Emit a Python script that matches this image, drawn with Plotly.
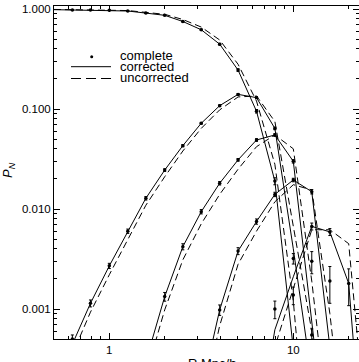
import plotly.graph_objects as go

# ---------------- data ----------------
R = [0.50, 0.63, 0.79, 1.00, 1.26, 1.58, 2.00, 2.51, 3.16, 3.98,
     5.01, 6.31, 7.94, 10.0, 12.6, 15.8, 20.0, 25.1]

# corrected (solid)
P0_corr = [0.985, 0.98, 0.975, 0.97, 0.955, 0.91, 0.865, 0.75, 0.62, 0.445,
           0.245, 0.095, 0.019, 0.0004, None, None, None, None]
P1_corr = [0.00017, 0.00044, 0.00114, 0.0027, 0.006, 0.0128, 0.0245, 0.043, 0.072, 0.108,
           0.140, 0.130, 0.064, 0.004, 0.0002, 0.000001, None, None]
P2_corr = [None, None, None, None, None, 0.0003, 0.00133, 0.0042, 0.0094, 0.0181,
           0.031, 0.049, 0.055, 0.030, 0.0009, 0.00002, None, None]
P3_corr = [None, None, None, None, None, None, None, None, 0.00015, 0.00098,
           0.0038, 0.0075, 0.0140, 0.0195, 0.0149, 0.00045, 0.00001, None]
P4_corr = [None, None, None, None, None, None, None, None, None, None,
           None, 0.00005, 0.00062, 0.0021, 0.0067, 0.0059, 0.0018, 0.00001]

# uncorrected (dashed)
P0_unc = [0.99, 0.985, 0.98, 0.975, 0.965, 0.925, 0.885, 0.785, 0.66, 0.49,
          0.28, 0.12, 0.028, 0.0012, 0.00001, None, None, None]
P1_unc = [0.00013, 0.00035, 0.00093, 0.0022, 0.0050, 0.0109, 0.021, 0.038, 0.064, 0.098,
          0.132, 0.135, 0.075, 0.0065, 0.0006, 0.00001, None, None]
P2_unc = [None, None, None, None, None, 0.00022, 0.00098, 0.0031, 0.0071, 0.0140,
          0.025, 0.042, 0.055, 0.040, 0.0019, 0.00005, None, None]
P3_unc = [None, None, None, None, None, None, None, None, 0.0001, 0.00068,
          0.0028, 0.0060, 0.0118, 0.0175, 0.0155, 0.0009, 0.00002, None]
P4_unc = [None, None, None, None, None, None, None, None, None, None,
          None, 0.00003, 0.00042, 0.0016, 0.0062, 0.0062, 0.0045, 0.00005]

# complete sample (dots with error bars)
P0_comp = [None, 0.98, 0.975, 0.97, 0.955, 0.91, 0.865, 0.75, 0.62, 0.445,
           0.245, 0.095, 0.019, None, None, None, None, None]
P1_comp = [None, 0.0005, 0.00114, 0.0027, 0.006, 0.0128, 0.0245, 0.043, 0.072, 0.108,
           0.140, 0.130, 0.064, 0.0032, 0.00055, None, None, None]
P2_comp = [None, None, None, None, None, None, 0.00133, 0.0042, 0.0094, 0.0181,
           0.031, 0.049, 0.055, 0.030, 0.0030, None, None, None]
P3_comp = [None, None, None, None, None, None, None, None, None, 0.00098,
           0.0038, 0.0075, 0.0140, 0.0195, 0.0149, 0.0019, None, None]
P4_comp = [None, None, None, None, None, None, None, None, None, None,
           None, None, 0.0010, 0.00138, 0.0067, 0.0059, 0.0018, None]

# relative errors of the complete-sample points (percent)
P0_err = [0, 0.5, 0.5, 0.5, 0.6, 0.8, 1, 1.2, 1.5, 2, 3, 4, 8, 0, 0, 0, 0, 0]
P1_err = [0, 10, 8, 6, 5, 4, 3, 2.5, 2, 2, 2, 2, 3, 12, 15, 0, 0, 0]
P2_err = [0, 0, 0, 0, 0, 0, 10, 7, 5, 4, 3, 3, 3, 4, 25, 0, 0, 0]
P3_err = [0, 0, 0, 0, 0, 0, 0, 0, 0, 12, 8, 6, 5, 4, 5, 40, 0, 0]
P4_err = [0, 0, 0, 0, 0, 0, 0, 0, 0, 0, 0, 0, 20, 20, 8, 8, 40, 0]

X_TICKS = [1, 10]
X_TICKTEXT = ["1", "10"]
Y_TICKS = [0.001, 0.01, 0.1, 1.0]
Y_TICKTEXT = ["0.001", "0.010", "0.100", "1.000"]

LEGEND_LABELS = ["complete", "corrected", "uncorrected"]

# ---------------- figure ----------------
W, H = 359, 362
ML, MR, MT, MB = 54, 0, 6, 23
PW, PH = W - ML - MR, H - MT - MB

def px(x):
    return (x - ML) / PW

def py(y):
    return (H - MB - y) / PH

FONT = "Liberation Sans, Arial, Helvetica, sans-serif"
DASH = "7px,4px"

fig = go.Figure()

corr = [P0_corr, P1_corr, P2_corr, P3_corr, P4_corr]
unc = [P0_unc, P1_unc, P2_unc, P3_unc, P4_unc]
comp = [P0_comp, P1_comp, P2_comp, P3_comp, P4_comp]
errs = [P0_err, P1_err, P2_err, P3_err, P4_err]

for c, u, p, e in zip(corr, unc, comp, errs):
    fig.add_trace(go.Scatter(x=R, y=u, mode="lines", showlegend=False,
                             line=dict(color="black", width=1, dash=DASH)))
    fig.add_trace(go.Scatter(x=R, y=c, mode="lines", showlegend=False,
                             line=dict(color="black", width=1)))
    ea = [(v * pc / 100.0) if v is not None else None for v, pc in zip(p, e)]
    fig.add_trace(go.Scatter(x=R, y=p, mode="markers", showlegend=False,
                             marker=dict(color="black", size=3.5),
                             error_y=dict(type="data", array=ea, visible=True,
                                          color="black", thickness=1, width=1.5)))

minor_x = [0.5, 0.6, 0.7, 0.8, 0.9, 2, 3, 4, 5, 6, 7, 8, 9, 20]
minor_y = [m * d for d in (0.001, 0.01, 0.1) for m in (2, 3, 4, 5, 6, 7, 8, 9)] + [0.0006, 0.0007, 0.0008, 0.0009]

fig.update_xaxes(type="log", range=[-0.3005, 1.357],
                 tickvals=X_TICKS, ticktext=X_TICKTEXT,
                 ticks="inside", ticklen=6, tickwidth=1, tickcolor="black",
                 showline=True, linecolor="black", linewidth=1, mirror="ticks",
                 showgrid=False, zeroline=False,
                 tickfont=dict(family=FONT, size=11.5, color="black"),
                 minor=dict(tickvals=minor_x, ticks="inside", ticklen=3,
                            tickcolor="black", tickwidth=1, showgrid=False))
fig.update_yaxes(type="log", range=[-3.30, 0.03],
                 tickvals=Y_TICKS, ticktext=Y_TICKTEXT,
                 ticks="inside", ticklen=6, tickwidth=1, tickcolor="black",
                 showline=True, linecolor="black", linewidth=1, mirror="ticks",
                 showgrid=False, zeroline=False,
                 tickfont=dict(family=FONT, size=11.5, color="black"),
                 minor=dict(tickvals=minor_y, ticks="inside", ticklen=3,
                            tickcolor="black", tickwidth=1, showgrid=False))

# legend drawn by hand (tight IDL-like spacing)
shapes = [
    dict(type="line", xref="paper", yref="paper", x0=px(71), x1=px(111),
         y0=py(66.7), y1=py(66.7), line=dict(color="black", width=1)),
    dict(type="line", xref="paper", yref="paper", x0=px(71), x1=px(113),
         y0=py(78.5), y1=py(78.5), line=dict(color="black", width=1, dash="10px,5px")),
    dict(type="circle", xref="paper", yref="paper", x0=px(90.2), x1=px(93.2),
         y0=py(58.2), y1=py(55.2), fillcolor="black", line=dict(color="black", width=0)),
]
ann = []
for lab, yy in zip(LEGEND_LABELS, [56.0, 66.5, 77.5]):
    ann.append(dict(text=lab, xref="paper", yref="paper", x=px(118), y=py(yy),
                    xanchor="left", yanchor="middle", showarrow=False,
                    font=dict(family=FONT, size=13, color="black")))
ann.append(dict(text="R Mpc/h", xref="paper", yref="paper", x=px(212), y=py(354),
                xanchor="center", yanchor="top", showarrow=False,
                font=dict(family=FONT, size=13, color="black")))
ann.append(dict(text="<i>P</i><sub><i>N</i></sub>", xref="paper", yref="paper",
                x=px(8), y=py(170), xanchor="center", yanchor="middle",
                textangle=-90, showarrow=False,
                font=dict(family=FONT, size=13, color="black")))

fig.update_layout(width=W, height=H, margin=dict(l=ML, r=MR, t=MT, b=MB),
                  paper_bgcolor="white", plot_bgcolor="white",
                  showlegend=False, shapes=shapes, annotations=ann)

fig.write_html("out.html")
